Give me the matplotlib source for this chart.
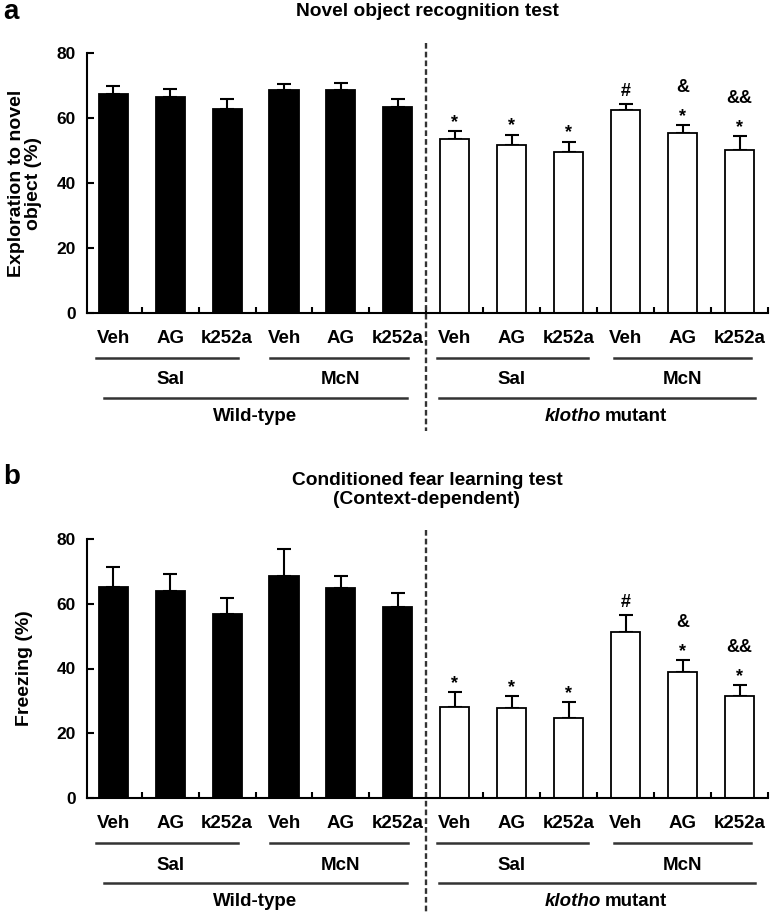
import matplotlib.pyplot as plt
import matplotlib.transforms as mtransforms
import numpy as np

plt.rcParams['font.family'] = ['Liberation Sans', 'DejaVu Sans']
plt.rcParams['font.weight'] = 'bold'

# data
drugs = ["Veh", "AG", "k252a"] * 4
treat = ["Sal", "McN", "Sal", "McN"]

nor_mean = [67.3, 66.4, 62.9, 68.5, 68.5, 63.5, 53.4, 51.6, 49.4, 62.5, 55.5, 50.0]
nor_err = [2.6, 2.4, 3.0, 2.0, 2.2, 2.3, 2.6, 3.3, 3.3, 1.7, 2.3, 4.5]
fear_mean = [65.3, 63.8, 56.9, 68.7, 64.8, 58.9, 28.1, 27.7, 24.7, 51.4, 39.0, 31.6]
fear_err = [5.9, 5.4, 5.0, 8.3, 3.7, 4.4, 4.5, 3.7, 4.9, 5.1, 3.5, 3.3]

# significance marks: (lower, upper)
marks = [("", "")] * 6 + [("*", ""), ("*", ""), ("*", ""), ("#", ""), ("*", "&"), ("*", "&&")]

W, H = 770, 914
fig = plt.figure(figsize=(W / 100, H / 100), dpi=100)

x = np.arange(12)
colors = ["black"] * 6 + ["white"] * 6


def panel(top_px, bottom_px, means, errs, ylabel, title, letter, title_y, letter_y, dash_top, dash_bottom):
    h = bottom_px - top_px
    ax = fig.add_axes([87 / W, 1 - bottom_px / H, (768 - 87) / W, h / H])
    ax.bar(x, means, width=0.51, color=colors, edgecolor="black", linewidth=1.3, zorder=2)
    ax.errorbar(x, means, yerr=[np.zeros(12), errs], fmt="none", ecolor="black",
                elinewidth=1.5, capsize=5, capthick=1.5, zorder=1)
    ax.set_xlim(-0.46, 11.5)
    ax.set_ylim(0, 80)
    ax.set_yticks([0, 20, 40, 60, 80])
    ax.set_yticklabels(["0", "20", "40", "60", "80"], fontsize=12.5)
    ax.set_xticks(np.arange(0.5, 11.6, 1))
    ax.set_xticklabels([])
    ax.tick_params(axis="y", direction="in", length=5, width=1.5, pad=8)
    ax.tick_params(axis="x", direction="in", length=4, width=1.5)
    for s in ["top", "right"]:
        ax.spines[s].set_visible(False)
    for s in ["left", "bottom"]:
        ax.spines[s].set_linewidth(1.5)

    tr = mtransforms.blended_transform_factory(ax.transData, ax.transAxes)

    def yoff(px):
        return -px / h

    for i, d in enumerate(drugs):
        ax.text(x[i], yoff(26), d, transform=tr, ha="center", va="center", fontsize=13.5)
    for (x0, x1) in [(-0.3, 2.2), (2.75, 5.18), (5.69, 8.33), (8.79, 11.21)]:
        ax.plot([x0, x1], [yoff(45)] * 2, transform=tr, color="#333333", lw=1.8, clip_on=False)
    for i, t in enumerate(treat):
        ax.text(3 * i + 1, yoff(67), t, transform=tr, ha="center", va="center", fontsize=13.5)
    for (x0, x1) in [(-0.16, 5.16), (5.72, 11.27)]:
        ax.plot([x0, x1], [yoff(85)] * 2, transform=tr, color="#333333", lw=1.8, clip_on=False)
    ax.text(2.5, yoff(104), "Wild-type", transform=tr, ha="center", va="center", fontsize=13.5)
    ax.text(8.57, yoff(104), "klotho", transform=tr, ha="right", va="center",
            fontsize=13.5, style="italic")
    ax.text(8.64, yoff(104), "mutant", transform=tr, ha="left", va="center", fontsize=13.5)

    # dashed separator between genotypes
    ax.plot([5.5, 5.5], [1 + (top_px - dash_top) / h, yoff(dash_bottom - bottom_px)],
            transform=tr, color="#333333", lw=1.7, ls=(0, (2.4, 1.3)), clip_on=False)

    for i, (lo, hi) in enumerate(marks):
        top = means[i] + errs[i]
        if lo == "*":
            ax.annotate("*", (x[i], top), xytext=(0, 3), textcoords="offset points",
                        ha="center", va="baseline", fontsize=13)
        elif lo == "#":
            ax.annotate("#", (x[i], top), xytext=(0, 6), textcoords="offset points",
                        ha="center", va="baseline", fontsize=13)
        if hi:
            ax.annotate(hi, (x[i], top), xytext=(0, 24), textcoords="offset points",
                        ha="center", va="baseline", fontsize=13)

    fig.text(25 / W, 1 - (top_px + bottom_px) / 2 / H, ylabel, rotation=90, ha="center",
             va="center", fontsize=14, linespacing=1.0)
    fig.text(427 / W, 1 - title_y / H, title, ha="center", va="center", fontsize=13.8,
             linespacing=1.2)
    fig.text(3 / W, 1 - letter_y / H, letter, ha="left", va="center", fontsize=20)
    return ax


panel(53, 313, nor_mean, nor_err, "Exploration to novel\nobject (%)",
      "Novel object recognition test", "a", 12, 12, 43, 431)
panel(539, 798, fear_mean, fear_err, "Freezing (%)",
      "Conditioned fear learning test\n(Context-dependent)", "b", 490, 477, 530, 914)

fig.savefig("out.png", dpi=100)
